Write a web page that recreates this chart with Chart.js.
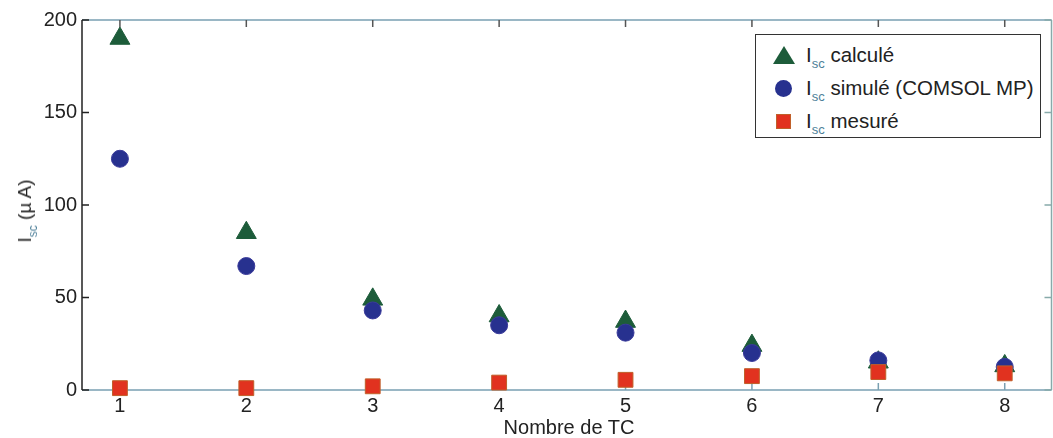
<!DOCTYPE html>
<html>
<head>
<meta charset="utf-8">
<script src="https://cdn.jsdelivr.net/npm/chart.js@4.4.1/dist/chart.umd.min.js"></script>
<style>
  body { margin: 0; background: #fff; overflow: hidden; }
  #wrap { position: relative; width: 1053px; height: 438px; overflow: hidden; font-family: "Liberation Sans", Arial, sans-serif; color: #222; }
  canvas { position: absolute; left: 0; top: 0; }
  .legend { position: absolute; left: 755px; top: 34px; width: 284px; height: 102px; border: 1px solid #333; background: #fff; font-size: 20.5px; }
  .row { position: absolute; left: 0; height: 22px; line-height: 22px; white-space: nowrap; }
  .row span.txt { position: absolute; left: 50px; top: 0; }
  sub { font-size: 13px; color: #4d7f99; vertical-align: -6px; line-height: 0; }
  .mk { position: absolute; }
  .tri { left: 17px; top: 2px; width: 0; height: 0; border-left: 11px solid transparent; border-right: 11px solid transparent; border-bottom: 18px solid #1d5c3a; }
  .circ { left: 19px; top: 3px; width: 17px; height: 17px; border-radius: 50%; background: #27318f; }
  .sq { left: 20px; top: 4px; width: 15px; height: 15px; background: #e1321f; border: 1px solid #c0602a; box-sizing: border-box; }
  #ytitle { position: absolute; left: 25px; top: 211px; transform: translate(-50%, -50%) rotate(-90deg); font-size: 19px; white-space: nowrap; }
  #ytitle sub { font-size: 12px; }
  #xtitle { position: absolute; left: 569px; top: 427px; transform: translate(-50%, -50%); font-size: 20px; white-space: nowrap; }
</style>
</head>
<body>
<div id="wrap">
  <!-- canvas a bit wider than the page: chart.js keeps a point-size gap on the right, it falls outside -->
  <canvas id="chart" width="1064" height="438"></canvas>
  <div class="legend">
    <div class="row" style="top:9px"><div class="mk tri"></div><span class="txt">I<sub>sc</sub> calculé</span></div>
    <div class="row" style="top:42px"><div class="mk circ"></div><span class="txt">I<sub>sc</sub> simulé (COMSOL MP)</span></div>
    <div class="row" style="top:75px"><div class="mk sq"></div><span class="txt">I<sub>sc</sub> mesuré</span></div>
  </div>
  <div id="ytitle">I<sub>sc</sub> (µ A)</div>
  <div id="xtitle">Nombre de TC</div>
</div>
<script>
const nbTC = [1, 2, 3, 4, 5, 6, 7, 8];
const iscCalcule = [190, 85, 49, 40, 37, 24, 15, 13];
const iscSimule = [125, 67, 43, 35, 31, 20, 16, 12.5];
const iscMesure = [1, 1, 2, 4, 5.5, 7.5, 9.7, 9];
const yTicks = [0, 50, 100, 150, 200];

function toPoints(vals) {
  return nbTC.map((x, i) => ({ x: x, y: vals[i] }));
}

// frame + inward ticks, drawn before the markers
const framePlugin = {
  id: 'frame',
  beforeDatasetsDraw(chart) {
    const ctx = chart.ctx;
    const a = chart.chartArea;
    const xs = chart.scales.x, ys = chart.scales.y;
    const len = 7;
    ctx.save();
    ctx.lineWidth = 1.5;
    // top + bottom (bluish grey in the scan)
    ctx.strokeStyle = '#7aa0b2';
    ctx.beginPath();
    ctx.moveTo(a.left, a.top); ctx.lineTo(a.right, a.top);
    ctx.moveTo(a.left, a.bottom); ctx.lineTo(a.right, a.bottom);
    nbTC.forEach(v => {
      const px = xs.getPixelForValue(v);
      ctx.moveTo(px, a.bottom); ctx.lineTo(px, a.bottom - len);
    });
    ctx.stroke();
    ctx.strokeStyle = '#555';
    ctx.beginPath();
    nbTC.forEach(v => {
      const px = xs.getPixelForValue(v);
      ctx.moveTo(px, a.top); ctx.lineTo(px, a.top + len);
    });
    ctx.stroke();
    // left axis
    ctx.strokeStyle = '#222';
    ctx.beginPath();
    ctx.moveTo(a.left, a.top); ctx.lineTo(a.left, a.bottom);
    yTicks.forEach(v => {
      const py = ys.getPixelForValue(v);
      ctx.moveTo(a.left, py); ctx.lineTo(a.left + len, py);
    });
    ctx.stroke();
    // right side
    ctx.strokeStyle = '#8aa';
    ctx.beginPath();
    ctx.moveTo(a.right, a.top); ctx.lineTo(a.right, a.bottom);
    yTicks.forEach(v => {
      const py = ys.getPixelForValue(v);
      ctx.moveTo(a.right, py); ctx.lineTo(a.right - len, py);
    });
    ctx.stroke();
    ctx.restore();
  }
};

const ctx = document.getElementById('chart').getContext('2d');
const chart = new Chart(ctx, {
  type: 'scatter',
  data: {
    datasets: [
      {
        label: 'Isc calculé',
        data: toPoints(iscCalcule),
        pointStyle: 'triangle',
        pointRadius: 11.5,
        backgroundColor: '#1d5c3a',
        borderColor: '#1d5c3a',
        borderWidth: 1,
        order: 3
      },
      {
        label: 'Isc simulé (COMSOL MP)',
        data: toPoints(iscSimule),
        pointStyle: 'circle',
        pointRadius: 8.5,
        backgroundColor: '#27318f',
        borderColor: '#3a3a9a',
        borderWidth: 1,
        order: 2
      },
      {
        label: 'Isc mesuré',
        data: toPoints(iscMesure),
        pointStyle: 'rect',
        pointRadius: 10.5,
        backgroundColor: '#e1321f',
        borderColor: '#c0602a',
        borderWidth: 1,
        order: 1
      }
    ]
  },
  options: {
    responsive: false,
    animation: false,
    devicePixelRatio: 1,
    layout: { padding: { top: 20, right: 0, left: 0, bottom: 0 } },
    plugins: { legend: { display: false }, tooltip: { enabled: false } },
    elements: { point: { hoverRadius: 10 } },
    datasets: { scatter: { clip: false } },
    scales: {
      x: {
        type: 'linear',
        min: 0.7,
        max: 8.37,
        afterBuildTicks: (scale) => { scale.ticks = nbTC.map(v => ({ value: v })); },
        afterFit: (scale) => { scale.height = 48; },
        grid: { display: false, drawTicks: false },
        border: { display: false },
        ticks: { color: '#222', padding: 4, font: { family: 'Liberation Sans', size: 20 }, maxRotation: 0 }
      },
      y: {
        min: 0,
        max: 200,
        afterBuildTicks: (scale) => { scale.ticks = yTicks.map(v => ({ value: v })); },
        afterFit: (scale) => { scale.width = 82; },
        grid: { display: false, drawTicks: false },
        border: { display: false },
        ticks: { color: '#222', padding: 5, font: { family: 'Liberation Sans', size: 20 } }
      }
    }
  },
  plugins: [framePlugin]
});
</script>
</body>
</html>
